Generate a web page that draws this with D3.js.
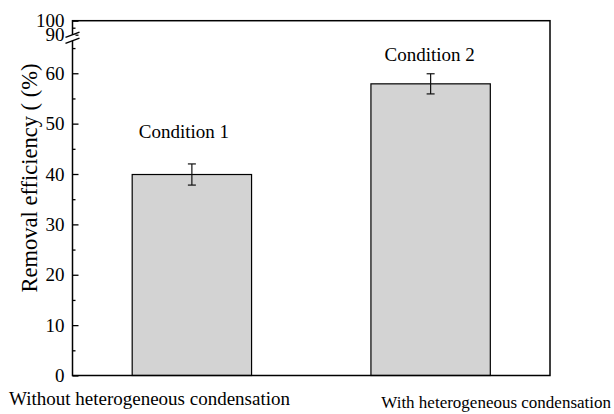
<!DOCTYPE html>
<html>
<head>
<meta charset="utf-8">
<script src="https://cdn.jsdelivr.net/npm/d3@7"></script>
<style>
	body { margin: 0; background: #fff; }
</style>
</head>
<body>
<div id="vis"></div>
<script>
// data
const CATEGORIES = ["Without heterogeneous condensation", "With heterogeneous condensation"];
const CONDITIONS = ["Condition 1", "Condition 2"];
const VALUES = [39.9, 57.9];
const ERRORS = [2.1, 2.0];
const LABEL_AT = [47.2, 62.4]; // condition label baseline, in axis units
const LOW_TICKS = [0, 10, 20, 30, 40, 50, 60];
const LOW_MINOR = [5, 15, 25, 35, 45, 55, 65];
const HIGH_TICKS = [90, 100];
const HIGH_MINOR = [95];

const FONT = "'Liberation Serif', Tinos, 'Times New Roman', Times, 'DejaVu Serif', serif";

// frame
const FRAME_WIDTH = 614;
const FRAME_HEIGHT = 414;
const MARGINS = {left: 72.5, right: 64, top: 20.7, bottom: 38.5};
const VIS_WIDTH = FRAME_WIDTH - MARGINS.left - MARGINS.right;
const VIS_HEIGHT = FRAME_HEIGHT - MARGINS.top - MARGINS.bottom;

const FRAME = d3.select("#vis")
	.append("svg")
		.attr("width", FRAME_WIDTH)
		.attr("height", FRAME_HEIGHT)
		.style("font-family", FONT);

FRAME.append("rect")
	.attr("width", FRAME_WIDTH)
	.attr("height", FRAME_HEIGHT)
	.attr("fill", "#fff");

const G = FRAME.append("g")
	.attr("transform", "translate(" + MARGINS.left + "," + MARGINS.top + ")");

// broken y axis: two linear pieces
const Y_LOW = d3.scaleLinear()
	.domain([0, 67])
	.range([VIS_HEIGHT, 17.3]);
const Y_HIGH = d3.scaleLinear()
	.domain([88, 100])
	.range([16.8, 0]);

const X_SCALE = d3.scaleBand()
	.domain(CATEGORIES)
	.range([0, VIS_WIDTH])
	.paddingInner(0.5)
	.paddingOuter(0.25);

// bars
G.selectAll(".bar")
	.data(VALUES)
	.enter()
	.append("rect")
		.attr("class", "bar")
		.attr("x", (d, i) => X_SCALE(CATEGORIES[i]))
		.attr("y", (d) => Y_LOW(d))
		.attr("width", X_SCALE.bandwidth())
		.attr("height", (d) => VIS_HEIGHT - Y_LOW(d))
		.attr("fill", "#d3d3d3")
		.attr("stroke", "#000")
		.attr("stroke-width", 1.2);

// error bars
const CX = (i) => X_SCALE(CATEGORIES[i]) + X_SCALE.bandwidth() / 2;
VALUES.forEach((v, i) => {
	const eb = G.append("g").attr("stroke", "#111").attr("stroke-width", 1.2);
	eb.append("line")
		.attr("x1", CX(i)).attr("x2", CX(i))
		.attr("y1", Y_LOW(v - ERRORS[i])).attr("y2", Y_LOW(v + ERRORS[i]));
	[v - ERRORS[i], v + ERRORS[i]].forEach((e) => {
		eb.append("line")
			.attr("x1", CX(i) - 4).attr("x2", CX(i) + 4)
			.attr("y1", Y_LOW(e)).attr("y2", Y_LOW(e));
	});
});

// condition labels
G.selectAll(".cond")
	.data(CONDITIONS)
	.enter()
	.append("text")
		.attr("class", "cond")
		.attr("x", (d, i) => CX(i) + (i == 0 ? -8 : -1))
		.attr("y", (d, i) => Y_LOW(LABEL_AT[i]))
		.attr("text-anchor", "middle")
		.style("font-family", FONT)
		.style("font-size", "19px")
		.text((d) => d);

// frame box
G.append("rect")
	.attr("width", VIS_WIDTH)
	.attr("height", VIS_HEIGHT)
	.attr("fill", "none")
	.attr("stroke", "#000")
	.attr("stroke-width", 1.5);

// y axis pieces
function drawAxis(scale, ticks, minor) {
	const ax = G.append("g")
		.call(d3.axisLeft(scale).tickValues(ticks).tickSize(-6).tickPadding(8).tickFormat(d3.format("d")));
	ax.select(".domain").remove();
	ax.selectAll("line").attr("stroke-width", 1.3);
	ax.selectAll("text")
		.style("font-family", FONT)
		.style("font-size", "19px");
	G.append("g")
		.call(d3.axisLeft(scale).tickValues(minor).tickSize(-3).tickFormat(""))
		.call((g) => g.select(".domain").remove())
		.selectAll("line").attr("stroke-width", 1.3);
}
drawAxis(Y_LOW, LOW_TICKS, LOW_MINOR);
drawAxis(Y_HIGH, HIGH_TICKS, HIGH_MINOR);

// break marks
const yb = (Y_LOW(67) + Y_HIGH(88)) / 2;
G.append("rect")
	.attr("x", -3).attr("y", yb - 3)
	.attr("width", 6).attr("height", 6)
	.attr("fill", "#fff");
[-3, 3].forEach((o) => {
	G.append("line")
		.attr("x1", -7).attr("x2", 7)
		.attr("y1", yb + o + 2.6).attr("y2", yb + o - 2.6)
		.attr("stroke", "#000")
		.attr("stroke-width", 1.5);
});

// y title
FRAME.append("text")
	.attr("transform", "translate(37,178) rotate(-90)")
	.attr("text-anchor", "middle")
	.style("font-family", FONT)
	.style("font-size", "22.5px")
	.text("Removal efficiency ( (%)");

// category labels, pushed outward from the bar centres
FRAME.append("g")
	.selectAll("text")
	.data(CATEGORIES)
	.enter()
	.append("text")
		.attr("x", (d, i) => (i == 0 ? 9 : FRAME_WIDTH - 3))
		.attr("y", (d, i) => (i == 0 ? 405 : 408))
		.attr("text-anchor", (d, i) => (i == 0 ? "start" : "end"))
		.style("font-family", FONT)
		.style("font-size", (d, i) => (i == 0 ? "19px" : "17px"))
		.text((d) => d);
</script>
</body>
</html>
